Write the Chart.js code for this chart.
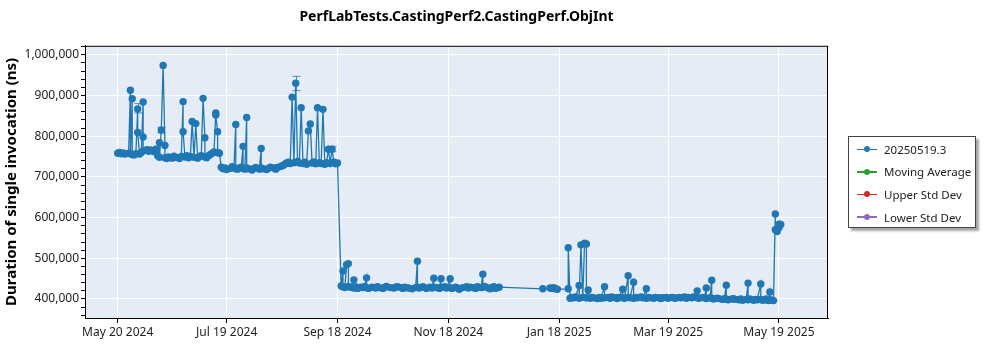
<!DOCTYPE html>
<html>
<head>
<meta charset="utf-8">
<script src="https://cdn.jsdelivr.net/npm/chart.js@4.4.1/dist/chart.umd.min.js"></script>
<style>
  body { margin: 0; background: #fff; font-family: "Noto Sans", sans-serif; }
  #wrap { position: relative; width: 1000px; height: 350px; }
  #legend { position: absolute; left: 848px; top: 136px; width: 126px; height: 90px;
    border: 1px solid #444; box-shadow: 3px 3px 2px rgba(0,0,0,0.35); background: #fff;
    font-size: 11.5px; color: #222; white-space: nowrap; }
  .item { display: flex; align-items: center; height: 22.6px; padding-left: 8px; }
  .item:first-child { margin-top: 1px; }
  .swatch { position: relative; width: 20px; height: 1.5px; margin-right: 7px; flex: none; }
  .swatch span { position: absolute; left: 7px; top: -2.5px; width: 6px; height: 6px; border-radius: 50%; }
</style>
</head>
<body>
<div id="wrap">
  <canvas id="perfChart" width="1000" height="350"></canvas>
  <div id="legend"></div>
</div>
<script>
// days since 2024-05-20 for each run, and the measured duration (ns)
var runDays = [
  0, 1, 2, 3, 4, 6, 7, 7, 8, 8,
  9, 10, 11, 11, 12, 13, 14, 14, 14, 16,
  17, 18, 20, 21, 22, 23, 23, 24, 25, 26,
  26, 27, 28, 30, 31, 32, 34, 35, 36, 36,
  37, 38, 39, 40, 41, 42, 43, 44, 45, 46,
  47, 48, 48, 49, 50, 51, 52, 53, 54, 54,
  55, 55, 56, 57, 58, 59, 60, 62, 63, 64,
  65, 65, 66, 67, 68, 69, 69, 70, 71, 71,
  72, 74, 75, 76, 78, 79, 79, 80, 82, 83,
  84, 86, 87, 88, 90, 91, 92, 93, 94, 95,
  96, 97, 98, 99, 100, 101, 102, 103, 104, 105,
  106, 107, 108, 109, 110, 111, 112, 113, 114, 115,
  116, 117, 118, 119, 120, 121, 123, 124, 124, 125,
  126, 127, 127, 128, 130, 130, 131, 132, 134, 135,
  136, 137, 137, 138, 140, 142, 143, 144, 146, 147,
  148, 150, 152, 153, 154, 156, 157, 158, 160, 162,
  164, 165, 165, 166, 168, 169, 170, 172, 173, 174,
  174, 176, 177, 178, 178, 180, 181, 183, 183, 184,
  186, 187, 188, 190, 192, 193, 194, 196, 197, 198,
  200, 201, 201, 202, 204, 205, 206, 207, 208, 209,
  210, 234, 238, 239, 240, 241, 242, 248, 248, 249,
  250, 251, 252, 254, 254, 255, 256, 257, 258, 258,
  259, 260, 261, 262, 264, 265, 266, 268, 268, 270,
  271, 272, 274, 275, 276, 278, 278, 279, 281, 281,
  282, 284, 284, 285, 286, 288, 289, 291, 291, 292,
  293, 295, 296, 298, 299, 300, 302, 303, 305, 306,
  307, 309, 310, 312, 313, 314, 316, 317, 319, 319,
  320, 322, 323, 324, 324, 326, 327, 327, 328, 330,
  331, 333, 334, 335, 335, 336, 338, 339, 340, 342,
  343, 344, 346, 347, 347, 348, 350, 351, 352, 354,
  354, 355, 356, 357, 358, 359, 359, 360, 361, 362,
  362, 363, 364, 364, 365
];
var runNs = [
  758000, 760000, 757000, 759000, 756000, 758000, 913000, 757000, 892000, 755000,
  754000, 757000, 867000, 809000, 756000, 760000, 884000, 798000, 764000, 767000,
  763000, 766000, 762000, 768000, 752000, 784000, 748000, 815000, 974000, 777000,
  747000, 745000, 749000, 746000, 751000, 748000, 745000, 750000, 885000, 811000,
  749000, 752000, 747000, 750000, 836000, 748000, 831000, 746000, 750000, 752000,
  893000, 796000, 749000, 747000, 752000, 755000, 758000, 761000, 857000, 852000,
  811000, 760000, 758000, 724000, 720000, 722000, 718000, 721000, 725000, 722000,
  829000, 720000, 719000, 722000, 724000, 775000, 721000, 719000, 846000, 722000,
  720000, 717000, 721000, 723000, 719000, 770000, 722000, 720000, 718000, 721000,
  724000, 722000, 719000, 723000, 726000, 728000, 731000, 734000, 736000, 733000,
  896000, 735000, 930000, 738000, 734000, 870000, 733000, 736000, 731000, 813000,
  830000, 734000, 737000, 732000, 870000, 735000, 733000, 866000, 731000, 735000,
  768000, 733000, 768000, 736000, 732000, 734000, 432000, 469000, 430000, 428000,
  484000, 487000, 431000, 429000, 447000, 427000, 430000, 426000, 429000, 428000,
  431000, 452000, 428000, 426000, 429000, 427000, 430000, 428000, 426000, 429000,
  431000, 428000, 427000, 429000, 430000, 428000, 426000, 429000, 427000, 425000,
  428000, 493000, 429000, 427000, 430000, 428000, 426000, 429000, 427000, 451000,
  429000, 428000, 426000, 450000, 428000, 430000, 427000, 450000, 428000, 426000,
  429000, 427000, 424000, 428000, 430000, 427000, 429000, 428000, 426000, 430000,
  428000, 461000, 429000, 431000, 427000, 425000, 428000, 430000, 426000, 428000,
  429000, 425000, 427000, 426000, 428000, 425000, 424000, 425000, 526000, 402000,
  404000, 403000, 405000, 433000, 402000, 533000, 404000, 537000, 535000, 403000,
  422000, 402000, 404000, 403000, 401000, 404000, 402000, 430000, 403000, 404000,
  402000, 405000, 403000, 401000, 404000, 424000, 403000, 402000, 457000, 404000,
  403000, 441000, 402000, 404000, 403000, 405000, 403000, 425000, 402000, 404000,
  403000, 402000, 404000, 403000, 401000, 403000, 404000, 402000, 404000, 403000,
  402000, 404000, 403000, 405000, 402000, 404000, 403000, 405000, 420000, 403000,
  402000, 404000, 403000, 427000, 401000, 403000, 446000, 402000, 400000, 402000,
  401000, 399000, 401000, 434000, 400000, 398000, 400000, 401000, 399000, 398000,
  400000, 397000, 399000, 439000, 398000, 400000, 397000, 399000, 398000, 437000,
  399000, 397000, 398000, 400000, 396000, 417000, 398000, 397000, 396000, 609000,
  570000, 566000, 584000, 575000, 583000
];

// a few runs show a min/max range
var errDays = [11, 24, 98, 118];
var errLow = [857000, 808000, 912000, 762000];
var errHigh = [880000, 822000, 947000, 775000];

var xTickDays = [0, 60, 121, 182, 243, 303, 364];
var xTickLabels = ['May 20 2024', 'Jul 19 2024', 'Sep 18 2024', 'Nov 18 2024', 'Jan 18 2025', 'Mar 19 2025', 'May 19 2025'];
var yTickValues = [400000, 500000, 600000, 700000, 800000, 900000, 1000000];

var seriesNames = ['20250519.3', 'Moving Average', 'Upper Std Dev', 'Lower Std Dev'];
var seriesColors = ['#1f77b4', '#2ca02c', '#d62728', '#9467bd'];

var plotBackground = {
    id: 'plotBackground',
    beforeDraw: function(chart) {
        var a = chart.chartArea;
        chart.ctx.save();
        chart.ctx.fillStyle = '#e5ecf6';
        chart.ctx.fillRect(a.left, a.top, a.right - a.left, a.bottom - a.top);
        chart.ctx.restore();
    },
    afterDatasetsDraw: function(chart) {
        var x = chart.scales.x, y = chart.scales.y, c = chart.ctx;
        c.save();
        c.strokeStyle = 'rgba(31,119,180,0.8)';
        c.lineWidth = 1;
        errDays.forEach(function(d, i) {
            var px = Math.round(x.getPixelForValue(d)) + 0.5;
            var lo = y.getPixelForValue(errLow[i]), hi = y.getPixelForValue(errHigh[i]);
            c.beginPath();
            c.moveTo(px, lo); c.lineTo(px, hi);
            c.moveTo(px - 4, lo); c.lineTo(px + 4, lo);
            c.moveTo(px - 4, hi); c.lineTo(px + 4, hi);
            c.stroke();
        });
        c.restore();
    },
    afterDraw: function(chart) {
        var a = chart.chartArea;
        chart.ctx.save();
        chart.ctx.strokeStyle = '#000';
        chart.ctx.lineWidth = 1;
        chart.ctx.strokeRect(a.left + 0.5, a.top + 0.5, a.right - a.left - 1, a.bottom - a.top);
        chart.ctx.restore();
    }
};

function buildPerfChart() {
    var points = runDays.map(function(d, i) { return { x: d, y: runNs[i] }; });
    var datasets = seriesNames.map(function(name, i) {
        return {
            label: name,
            data: i === 0 ? points : [],
            borderColor: seriesColors[i],
            backgroundColor: seriesColors[i],
            borderWidth: 1.3,
            pointRadius: 3.7,
            pointBorderWidth: 0,
            tension: 0
        };
    });

    var ctx = document.getElementById('perfChart').getContext('2d');
    var chart = new Chart(ctx, {
        type: 'line',
        data: { datasets: datasets },
        plugins: [plotBackground],
        options: {
            responsive: false,
            animation: false,
            layout: { padding: { left: 0, right: 172, top: 0, bottom: 0 } },
            plugins: {
                legend: { display: false },
                tooltip: { enabled: false },
                title: {
                    display: true,
                    text: 'PerfLabTests.CastingPerf2.CastingPerf.ObjInt',
                    fullSize: false,
                    color: '#000',
                    font: { family: '"Noto Sans", sans-serif', size: 14, weight: 'bold' },
                    padding: { top: 9, bottom: 20 }
                }
            },
            scales: {
                x: {
                    type: 'linear',
                    min: -18,
                    max: 391,
                    afterBuildTicks: function(scale) {
                        scale.ticks = xTickDays.map(function(v) { return { value: v }; });
                    },
                    afterFit: function(scale) { scale.height = 32; },
                    ticks: {
                        autoSkip: false,
                        maxRotation: 0,
                        padding: 2,
                        color: '#222',
                        font: { family: '"Noto Sans", sans-serif', size: 12 },
                        callback: function(value, index) { return xTickLabels[index]; }
                    },
                    grid: { color: '#fff', lineWidth: 1, tickColor: '#000', tickLength: 5 },
                    border: { color: '#000' }
                },
                y: {
                    min: 353300,
                    max: 1022100,
                    afterBuildTicks: function(scale) {
                        var ticks = [];
                        for (var v = 360000; v <= 1020000; v += 20000) ticks.push({ value: v });
                        scale.ticks = ticks;
                    },
                    afterFit: function(scale) { scale.width = 85; },
                    ticks: {
                        autoSkip: false,
                        padding: 2,
                        color: '#222',
                        font: { family: '"Noto Sans", sans-serif', size: 12 },
                        callback: function(value) {
                            return yTickValues.indexOf(value) >= 0 ? value.toLocaleString('en-US') : '';
                        }
                    },
                    grid: {
                        color: function(c) { return yTickValues.indexOf(c.tick.value) >= 0 ? '#fff' : 'rgba(0,0,0,0)'; },
                        lineWidth: 1,
                        tickColor: '#000',
                        tickLength: 4
                    },
                    border: { color: '#000' },
                    title: {
                        display: true,
                        text: 'Duration of single invocation (ns)',
                        color: '#000',
                        font: { family: '"Noto Sans", sans-serif', size: 15, weight: 'bold' },
                        padding: { top: 3, bottom: 0 }
                    }
                }
            }
        }
    });

    var legend = document.getElementById('legend');
    chart.data.datasets.forEach(function(ds) {
        var item = document.createElement('div');
        item.className = 'item';
        item.innerHTML = '<div class="swatch" style="background:' + ds.borderColor + '"><span style="background:' +
            ds.borderColor + '"></span></div>' + ds.label;
        legend.appendChild(item);
    });
}

buildPerfChart();
</script>
</body>
</html>
